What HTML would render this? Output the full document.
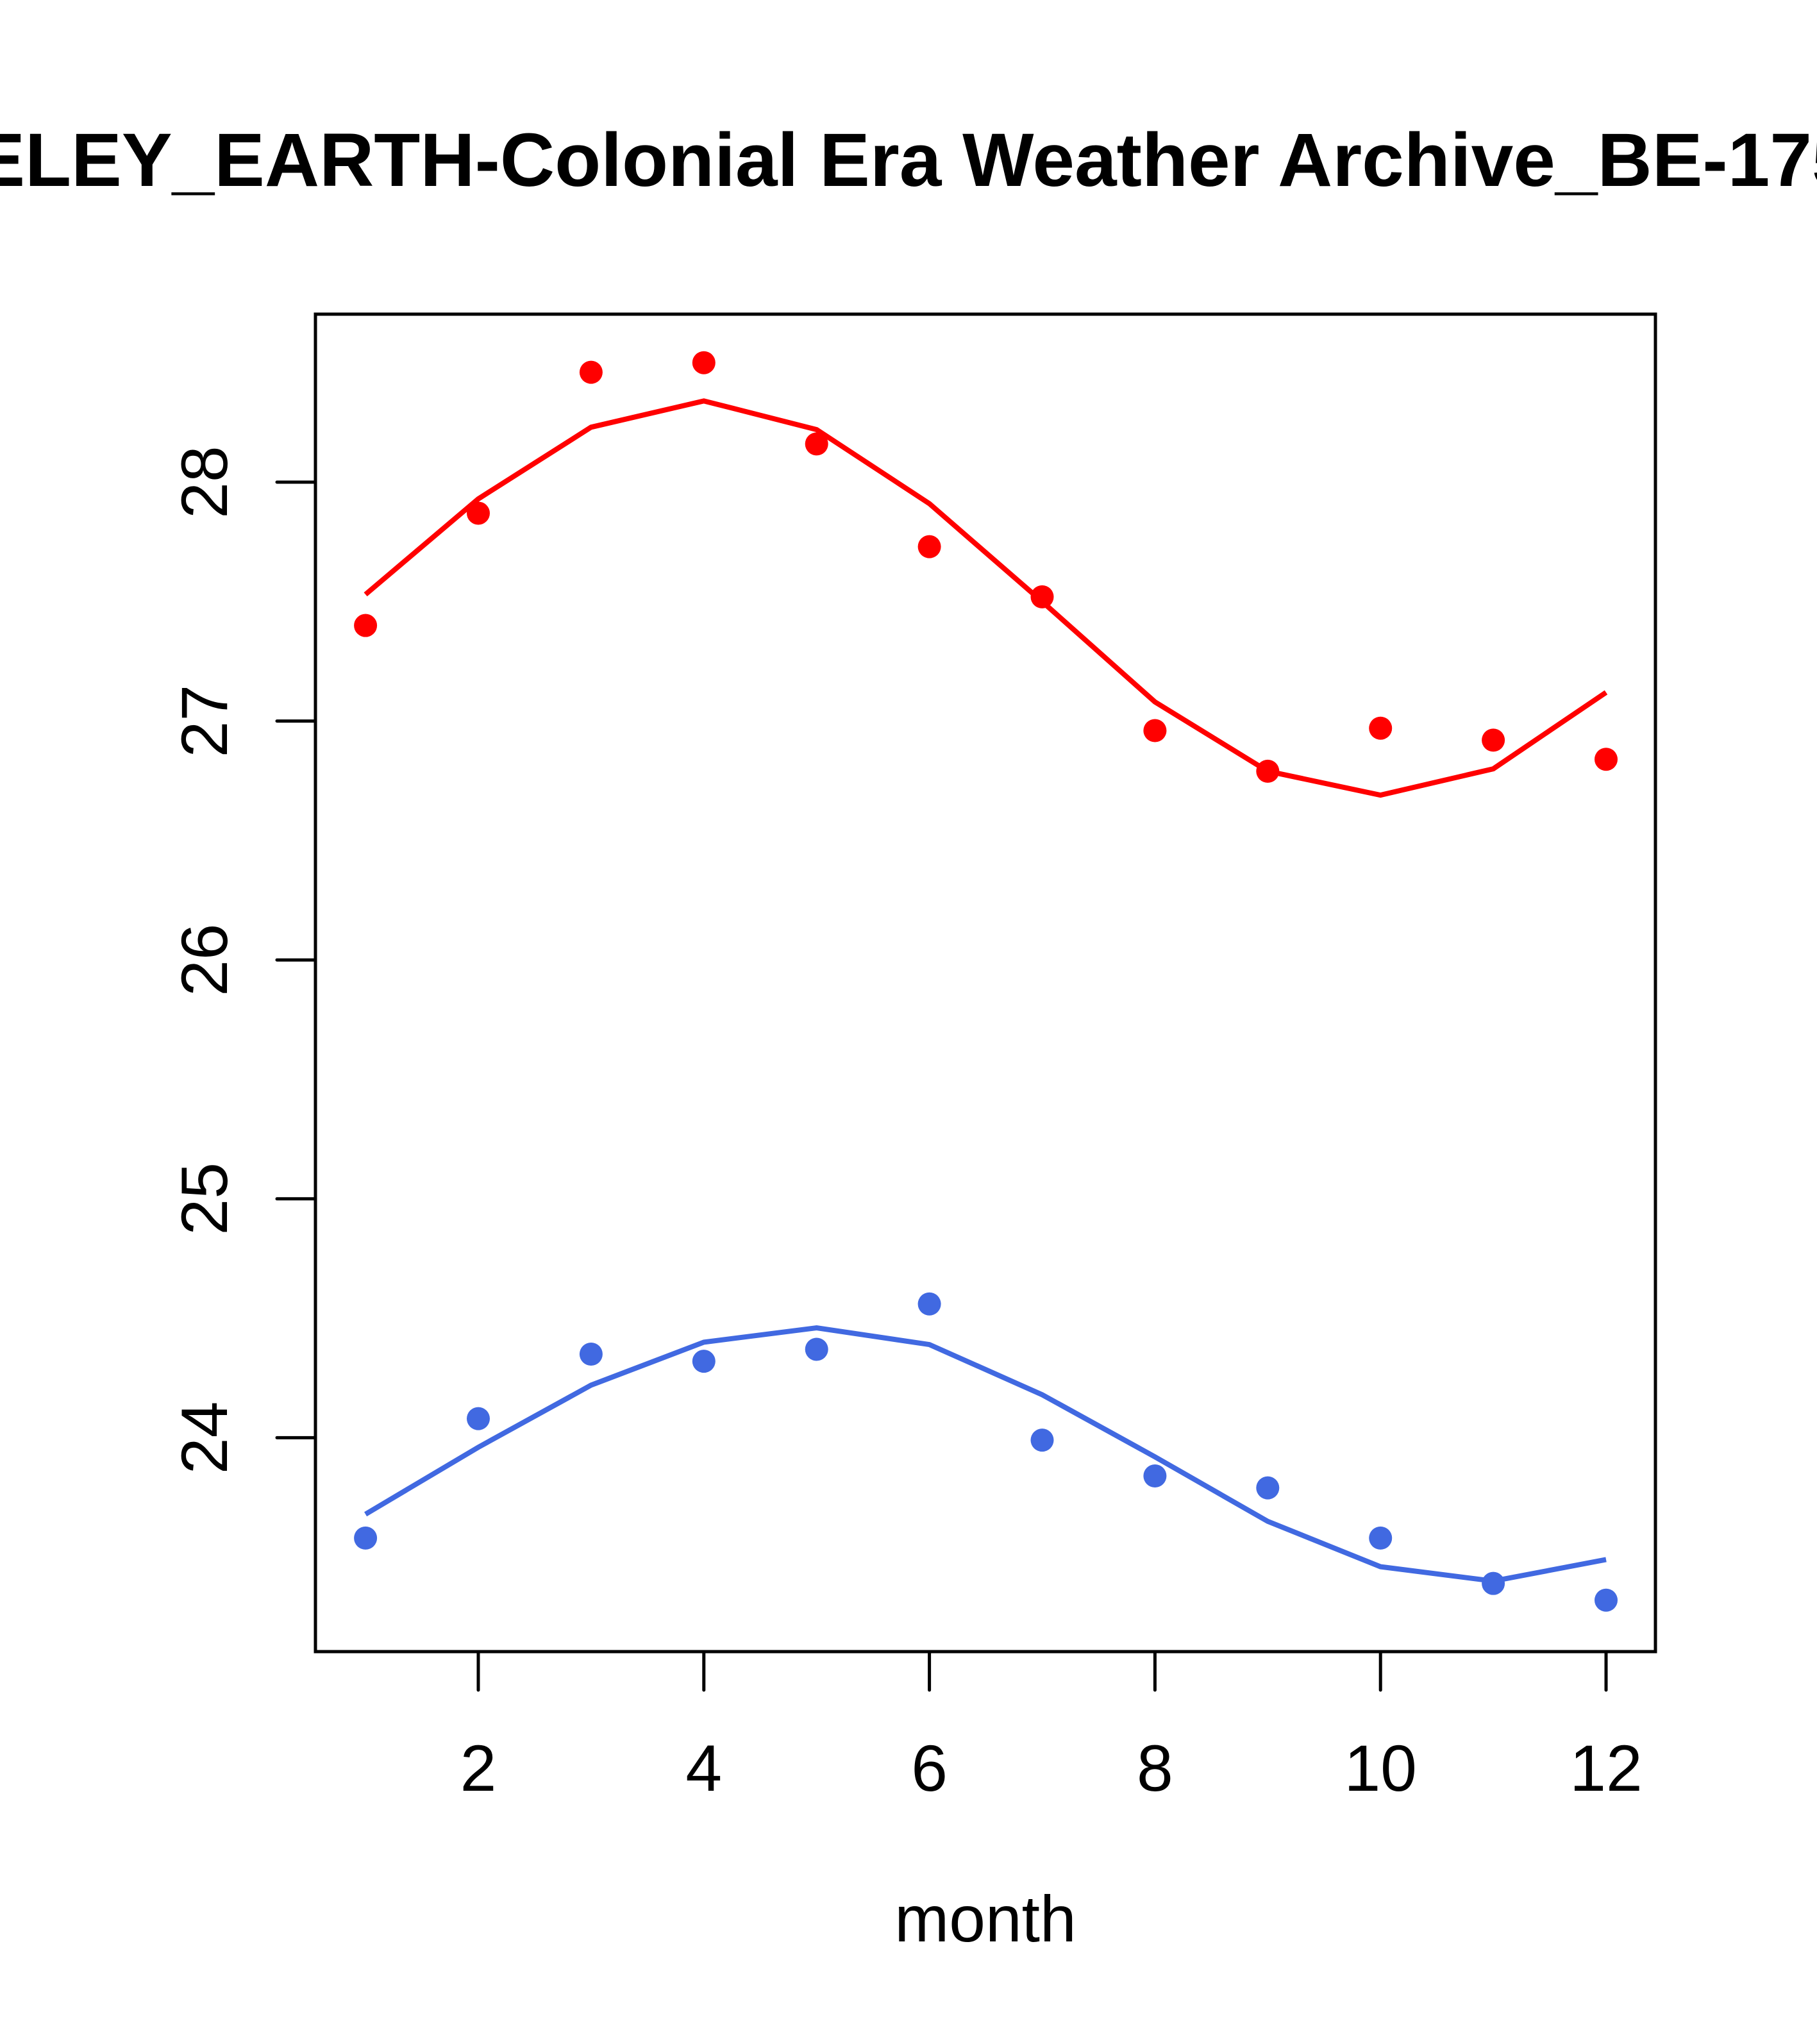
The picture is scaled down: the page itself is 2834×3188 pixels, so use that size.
<!DOCTYPE html>
<html><head><meta charset="utf-8"><style>
html,body{margin:0;padding:0;background:#fff;}
svg{display:block;}
text{font-family:"Liberation Sans",Arial,sans-serif;}
</style></head><body>
<svg id="chart" width="2834" height="3188" viewBox="0 0 2834 3188" xmlns="http://www.w3.org/2000/svg">
<rect width="2834" height="3188" fill="#fff"/>
<text x="-374" y="290" font-size="118" font-weight="bold" fill="#000">BERKELEY_EARTH-Colonial Era Weather Archive_BE-1759</text>
<g id="axes"></g>
<g id="series"></g>
<rect x="492" y="490" width="2090" height="2086" fill="none" stroke="#000" stroke-width="5"/>
<text x="1537" y="3028" font-size="102" text-anchor="middle">month</text>
</svg>
<script>
const months = [1,2,3,4,5,6,7,8,9,10,11,12];
const redPoints = [27.40,27.87,28.46,28.50,28.16,27.73,27.52,26.96,26.79,26.97,26.92,26.84];
const redLine = [27.53,27.93,28.23,28.34,28.22,27.91,27.50,27.08,26.79,26.69,26.80,27.12];
const bluePoints = [23.58,24.08,24.35,24.32,24.37,24.56,23.99,23.84,23.79,23.58,23.39,23.32];
const blueLine = [23.68,23.96,24.22,24.40,24.46,24.39,24.18,23.92,23.65,23.46,23.40,23.49];
const xTicks = [2,4,6,8,10,12];
const yTicks = [24,25,26,27,28];

const NS = "http://www.w3.org/2000/svg";
function xs(m){ return 746 + (m-2)*175.9; }
function ys(v){ return 752 + (28-v)*372.6; }
function mk(tag, attrs, parent){
  const e = document.createElementNS(NS, tag);
  for (const k in attrs) e.setAttribute(k, attrs[k]);
  parent.appendChild(e);
  return e;
}
const axes = document.getElementById('axes');
const series = document.getElementById('series');
xTicks.forEach(t => {
  const l = mk('line', {x1:xs(t), x2:xs(t), y1:2576, y2:2636, stroke:'#000','stroke-width':5,'stroke-linecap':'round'}, axes);
  
  
  const tx = mk('text', {x:xs(t), y:2793, 'font-size':102, 'text-anchor':'middle'}, axes);
  tx.textContent = t;
  
  
});
yTicks.forEach(t => {
  const l = mk('line', {x1:432, x2:492, y1:ys(t), y2:ys(t), stroke:'#000','stroke-width':5,'stroke-linecap':'round'}, axes);
  
  
  const tx = mk('text', {x:0, y:0, 'font-size':102, 'text-anchor':'middle', transform:'translate(354,'+ys(t)+') rotate(-90)'}, axes);
  tx.textContent = t;
  
  
});
function drawLine(vals, color, name){
  const p = mk('polyline', {points: months.map((m,i)=>xs(m)+','+ys(vals[i])).join(' '), fill:'none', stroke:color, 'stroke-width':8}, series);
  
  
}
function drawPts(vals, color, name){
  months.forEach((m,i) => {
    const c = mk('circle', {cx:xs(m), cy:ys(vals[i]), r:18, fill:color}, series);
    
    
  });
}
drawLine(redLine, '#ff0000', 'red-fit-line');
drawPts(redPoints, '#ff0000', 'red-point');
drawLine(blueLine, '#4169e1', 'blue-fit-line');
drawPts(bluePoints, '#4169e1', 'blue-point');
</script>
</body></html>
